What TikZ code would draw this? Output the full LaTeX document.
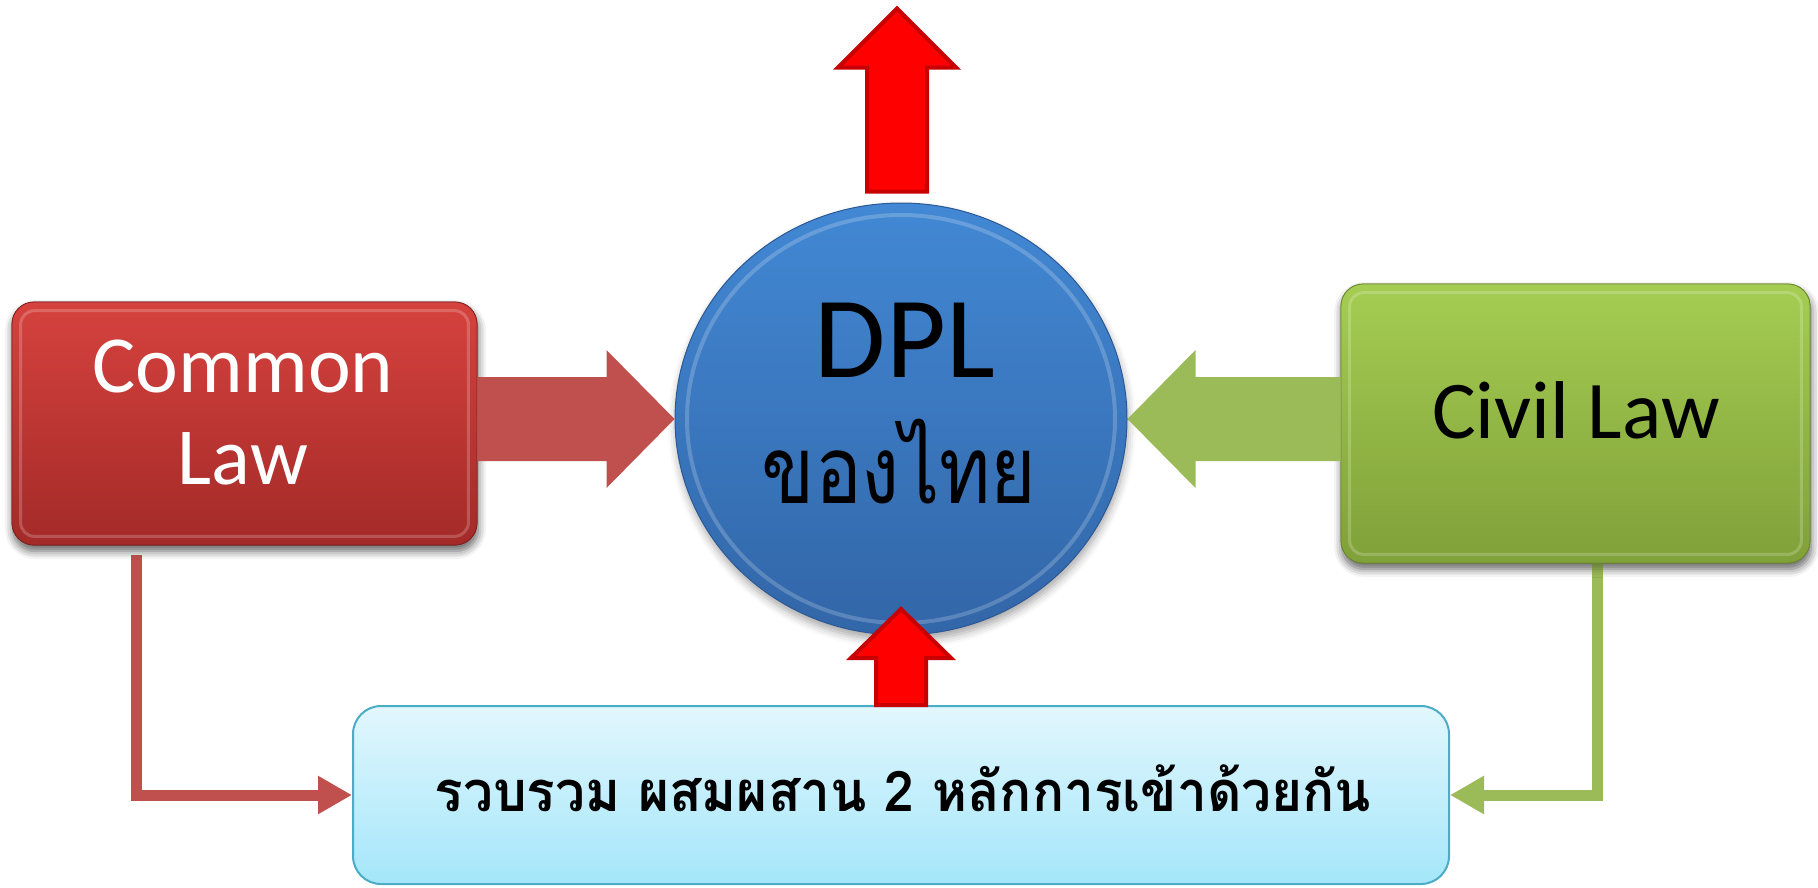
\documentclass[tikz,border=0pt]{standalone}
\usepackage{fontspec}
\setmainfont{Carlito}
\newfontfamily\thaifont[Script=Thai]{Loma}
\usetikzlibrary{calc,arrows.meta,shadows.blur,shapes.geometric}
\definecolor{redtop}{RGB}{214,66,62}
\definecolor{redbot}{RGB}{163,42,40}
\definecolor{greentop}{RGB}{165,205,82}
\definecolor{greenbot}{RGB}{128,160,57}
\definecolor{bluetop}{RGB}{66,136,212}
\definecolor{bluebot}{RGB}{50,102,168}
\definecolor{blueedge}{RGB}{44,88,150}
\definecolor{cyantop}{RGB}{226,247,253}
\definecolor{cyanbot}{RGB}{164,230,250}
\definecolor{cyanedge}{RGB}{75,172,198}
\definecolor{accred}{RGB}{192,80,77}
\definecolor{accgreen}{RGB}{155,187,89}
\definecolor{pureRed}{RGB}{255,0,0}
\definecolor{darkRed}{RGB}{200,0,0}
\tikzset{
  softshadow/.style={blur shadow={shadow xshift=1pt,shadow yshift=-6pt,shadow blur radius=8pt,shadow opacity=35}},
  redbox/.style={rectangle,rounded corners=22pt,top color=redtop,bottom color=redbot,draw=redbot!80!black,line width=0.8pt,softshadow,inner sep=0pt},
  greenbox/.style={rectangle,rounded corners=22pt,top color=greentop,bottom color=greenbot,draw=greenbot!85!black,line width=0.8pt,softshadow,inner sep=0pt},
  bluecircle/.style={ellipse,top color=bluetop,bottom color=bluebot,draw=blueedge,line width=1pt,softshadow,inner sep=0pt},
  cyanbox/.style={rectangle,rounded corners=28pt,top color=cyantop,bottom color=cyanbot,draw=cyanedge,line width=2pt,inner sep=0pt},
  blockred/.style={fill=accred},
  blockgreen/.style={fill=accgreen},
  bigred/.style={fill=pureRed,draw=darkRed,line width=4pt,line join=miter},
  conn/.style={line width=11pt,-{Triangle[length=34pt,width=36pt]}},
  rim/.style={draw=white,draw opacity=0.2,line width=3pt},
}
\begin{document}
\begin{tikzpicture}[x=1pt,y=-1pt]
\useasboundingbox (0,0) rectangle (1818,887);
% main nodes
\node[cyanbox,minimum width=1096pt,minimum height=178pt] (bot) at (901,795) {};
\node[redbox,minimum width=465pt,minimum height=243pt] (cl) at (244.5,423.5) {};
\node[greenbox,minimum width=469pt,minimum height=279pt] (cv) at (1575.5,423.5) {};
% connectors
\draw[conn,accred] ($(cl.south west)+(125,10)$) |- (bot.west);
\draw[conn,accgreen] ($(cv.south west)+(257,-8)$) |- (bot.east);
% redraw boxes over connector starts
\node[redbox,minimum width=465pt,minimum height=243pt] (cl2) at (cl.center) {};
\node[greenbox,minimum width=469pt,minimum height=279pt] (cv2) at (cv.center) {};
\draw[rim,rounded corners=14pt] ($(cl.north west)+(9,9)$) rectangle ($(cl.south east)+(-9,-9)$);
\draw[rim,rounded corners=14pt] ($(cv.north west)+(9,9)$) rectangle ($(cv.south east)+(-9,-9)$);
% circle
\node[bluecircle,minimum width=452pt,minimum height=432pt] (dpl) at (901,419) {};
\draw[draw=white,draw opacity=0.2,line width=4pt] (dpl.center) ellipse [x radius=214pt,y radius=204pt];
% block arrows
\fill[blockred] ($(cl.east|-dpl.west)+(0,-42)$) -- ($(dpl.west)+(-68,-42)$) -- ($(dpl.west)+(-68,-69)$) -- (dpl.west) -- ($(dpl.west)+(-68,69)$) -- ($(dpl.west)+(-68,42)$) -- ($(cl.east|-dpl.west)+(0,42)$) -- cycle;
\fill[blockgreen] ($(cv.west|-dpl.east)+(0,-42)$) -- ($(dpl.east)+(68,-42)$) -- ($(dpl.east)+(68,-69)$) -- (dpl.east) -- ($(dpl.east)+(68,69)$) -- ($(dpl.east)+(68,42)$) -- ($(cv.west|-dpl.east)+(0,42)$) -- cycle;
% top red arrow
\draw[bigred] ($(dpl.north)+(-34,-11)$) -- ($(dpl.north)+(-34,-135)$) -- ($(dpl.north)+(-63,-135)$) -- ($(dpl.north)+(-4,-194)$) -- ($(dpl.north)+(55,-135)$) -- ($(dpl.north)+(26,-135)$) -- ($(dpl.north)+(26,-11)$) -- cycle;
% bottom red arrow
\draw[bigred] ($(bot.north)+(-25,0)$) -- ($(bot.north)+(-25,-47)$) -- ($(bot.north)+(-50,-47)$) -- ($(bot.north)+(0,-96)$) -- ($(bot.north)+(50,-47)$) -- ($(bot.north)+(25,-47)$) -- ($(bot.north)+(25,0)$) -- cycle;
% texts
\node[anchor=base,white,font=\fontsize{81}{92}\selectfont,inner sep=0pt] (clt1) at ($(cl.center)+(-1.5,-31.5)$) {Common};
\node[anchor=base,white,font=\fontsize{81}{92}\selectfont,inner sep=0pt] (clt2) at ($(cl.center)+(-1.5,60.5)$) {Law};
\node[anchor=base,black,font=\fontsize{82}{92}\selectfont,inner sep=0pt] (cvt) at ($(cv.center)+(0.5,14.5)$) {Civil Law};
\node[anchor=base,black,font=\fontsize{116}{130}\selectfont,inner sep=0pt] (dplt1) at ($(dpl.center)+(4,-42)$) {DPL};
\node[anchor=base,black,font=\thaifont\fontsize{94}{110}\selectfont,inner sep=0pt] (dplt2) at ($(dpl.center)+(-2,84)$) {\scalebox{0.83}[1]{ของไทย}};
\node[anchor=base,black,font=\thaifont\bfseries\fontsize{56}{64}\selectfont,inner sep=0pt] (bott) at ($(bot.center)+(2,16)$) {\scalebox{0.95}[1]{รวบรวม ผสมผสาน 2 หลักการเข้าด้วยกัน}};
\end{tikzpicture}
\end{document}
